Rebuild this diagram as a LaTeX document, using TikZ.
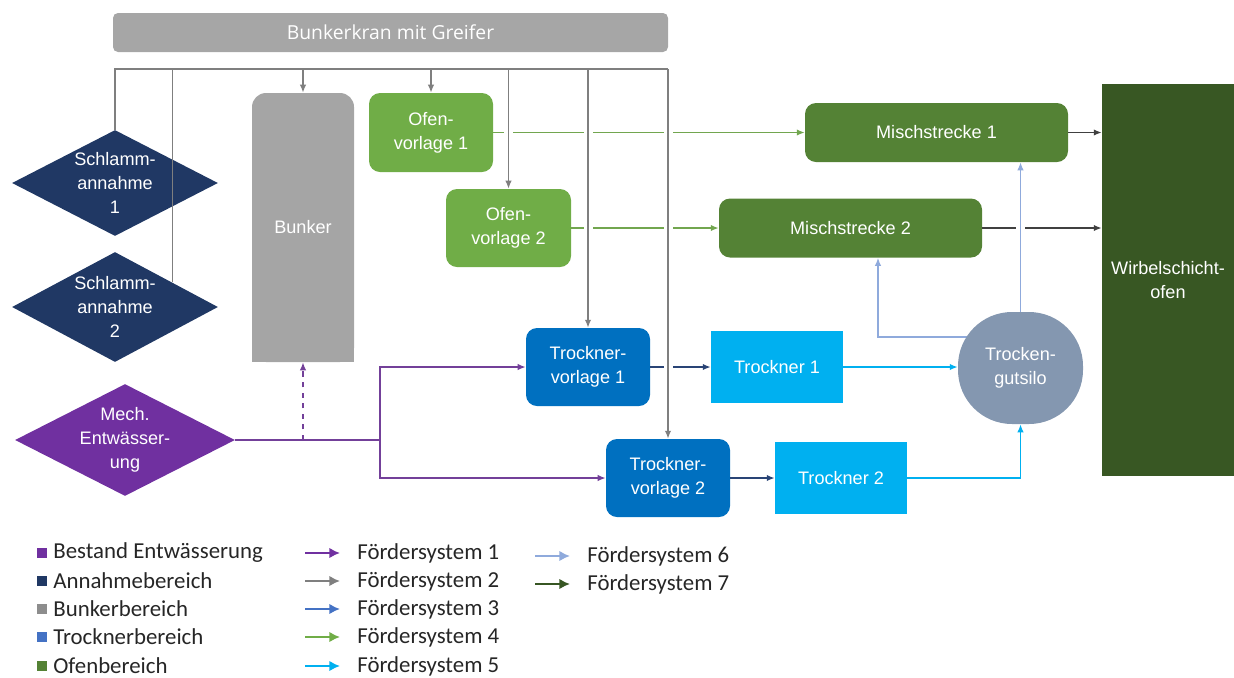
\documentclass[tikz,border=0pt]{standalone}
\usepackage{fontspec}
\setmainfont{Liberation Sans}
\newfontfamily\legendfont{Carlito}
\newfontfamily\barfont{Open Sans}
\usetikzlibrary{shapes.geometric,arrows.meta,backgrounds,calc}
\newlength\px
\setlength\px{0.02cm}

\definecolor{krangray}{HTML}{A6A6A6}
\definecolor{bunkergray}{HTML}{A5A5A5}
\definecolor{navy}{HTML}{203864}
\definecolor{entwpurple}{HTML}{7030A0}
\definecolor{lgreen}{HTML}{70AD47}
\definecolor{mgreen}{HTML}{548235}
\definecolor{dgreen}{HTML}{385723}
\definecolor{tvblue}{HTML}{0070C0}
\definecolor{trcyan}{HTML}{00B0F0}
\definecolor{silogray}{HTML}{8497B0}
\definecolor{fsone}{HTML}{7030A0}
\definecolor{fstwo}{HTML}{7F7F7F}
\definecolor{fsthree}{HTML}{4472C4}
\definecolor{fsfour}{HTML}{70AD47}
\definecolor{fsfive}{HTML}{00B0F0}
\definecolor{fssix}{HTML}{8FAADC}
\definecolor{fsseven}{HTML}{375623}
\definecolor{legtext}{HTML}{262626}

\begin{document}
\begin{tikzpicture}[x=\px,y=-\px,
  lbl/.style={text=white, font=\fontsize{10.3}{13.5}\selectfont, align=center, inner sep=0pt},
  roundbox/.style={lbl, rectangle, rounded corners=11\px},
  flatbox/.style={lbl, rectangle},
  rhomb/.style={lbl, diamond, aspect=1.9},
  tip/.style={-{Latex[length=4.5pt,width=3.6pt]}},
  conn/.style={line width=0.7pt},
  crossing/.style={preaction={draw=white, line width=9\px}},
  bus/.style={conn, draw=fstwo},
  ofenline/.style={conn, draw=fsfour!85!gray},
  misch/.style={conn, draw=black!75},
  siloline/.style={conn, draw=fssix},
  trline/.style={conn, draw=fsfive},
  tvline/.style={conn, draw=fsthree!60!black},
  entwline/.style={conn, draw=fsone!80!gray},
  legsq/.style={rectangle, inner sep=0pt, minimum size=10\px},
  legtxt/.style={anchor=west, inner sep=0pt, text=legtext, font=\legendfont\fontsize{13}{15}\selectfont},
  legarrow/.style={line width=1.5pt, -{Latex[length=6pt,width=6pt]}}
]
\useasboundingbox (0,0) rectangle (1234,677);

% ---------- process blocks ----------
\node[flatbox, fill=krangray, rounded corners=5\px, minimum width=555\px, minimum height=39\px,
      font=\barfont\fontsize{11}{13}\selectfont] (kran) at (390.5,32.5) {Bunkerkran mit Greifer};

\node[flatbox, fill=bunkergray, rounded corners=14\px, minimum width=102\px, minimum height=269\px] (bk) at (303,227.5) {Bunker};
\begin{scope}[on background layer]
  \fill[bunkergray] (bk.south west) rectangle (bk.east);
\end{scope}

\node[rhomb, fill=navy, minimum width=206\px, minimum height=106\px] (sa1) at (115,183) {Schlamm-\\annahme\\1};
\node[rhomb, fill=navy, minimum width=206\px, minimum height=110\px] (sa2) at (115,307) {Schlamm-\\annahme\\2};
\node[rhomb, fill=entwpurple, minimum width=220\px, minimum height=110\px] (mech) at (125,440) {Mech.\\Entwässer-\\ung};

\node[roundbox, fill=lgreen, minimum width=124\px, minimum height=79\px] (ov1) at (431,132.5) {Ofen-\\vorlage 1};
\node[roundbox, fill=lgreen, minimum width=125\px, minimum height=78\px] (ov2) at (508.5,228) {Ofen-\\vorlage 2};

\node[roundbox, fill=mgreen, minimum width=263\px, minimum height=59\px] (ms1) at (936.5,132.5) {Mischstrecke 1};
\node[roundbox, fill=mgreen, minimum width=263\px, minimum height=59\px] (ms2) at (850.5,228) {Mischstrecke 2};

\node[flatbox, fill=dgreen, minimum width=132\px, minimum height=392\px] (wso) at (1168,280) {Wirbelschicht-\\ofen};

\node[roundbox, fill=tvblue, minimum width=124\px, minimum height=78\px] (tv1) at (588,367) {Trockner-\\vorlage 1};
\node[roundbox, fill=tvblue, minimum width=124\px, minimum height=78\px] (tv2) at (668,478) {Trockner-\\vorlage 2};

\node[flatbox, fill=trcyan, minimum width=132\px, minimum height=72\px] (tr1) at (777,367) {Trockner 1};
\node[flatbox, fill=trcyan, minimum width=132\px, minimum height=72\px] (tr2) at (841,478) {Trockner 2};

\node[lbl, rectangle, fill=silogray, rounded corners=54\px, minimum width=125\px, minimum height=112\px] (silo) at (1020.5,368) {Trocken-\\gutsilo};

% ---------- conveyors ----------
\coordinate (busR) at (668,69);
\coordinate (split) at (380,440);
\coordinate (silobend) at (878,337);

% horizontal runs first, so that the verticals can cut gaps into them
\draw[ofenline, tip] (ov1.east) -- (ms1.west);
\draw[ofenline, tip] (ov2.east) -- (ms2.west);
\draw[misch, tip] (ms1.east) -- (ms1.east -| wso.west);
\draw[misch, tip] (ms2.east) -- (ms2.east -| wso.west);
\draw[tvline, tip] (tv1.east) -- (tr1.west);
\draw[tvline, tip] (tv2.east) -- (tr2.west);
\draw[trline, tip] (tr1.east) -- (tr1.east -| silo.west);
\draw[trline, tip] (tr2.east) -| (silo.south);

% crane feeds
\draw[bus, tip, crossing] (bk.north |- busR) -- (bk.north);
\draw[bus, tip, crossing] (ov1.north |- busR) -- (ov1.north);
\draw[bus, tip, crossing] (ov2.north |- busR) -- (ov2.north);
\draw[bus, tip, crossing] (tv1.north |- busR) -- (tv1.north);
\draw[bus, tip, crossing] (busR) -- (tv2.north);
\draw[bus] (sa1.north) -- (sa1.north |- busR) -- (busR);
\coordinate (sa2top) at ($(sa2.north)!0.553!(sa2.east)$);
\draw[bus] (sa2top) -- (sa2top |- busR);

% dried sludge to the mixers
\draw[siloline, tip, crossing] (silo.north) -- (silo.north |- ms1.south);
\begin{scope}[on background layer]
  \draw[siloline, tip] (silo.center |- silobend) -- (silobend) -- (silobend |- ms2.south);
\end{scope}

% mechanical dewatering
\draw[entwline] (mech.east) -- (split);
\draw[entwline, tip] (split) |- (tv1.west);
\draw[entwline, tip] (split) |- (tv2.west);
\draw[entwline, dashed, tip] (mech.east -| bk.south) -- (bk.south);

% ---------- legend ----------
\node[legtxt] (la) at (53,553) {Bestand Entwässerung};
\node[legtxt] (lb) at (53,581) {Annahmebereich};
\node[legtxt] (lc) at (53,609) {Bunkerbereich};
\node[legtxt] (ld) at (53,637) {Trocknerbereich};
\node[legtxt] (le) at (53,666) {Ofenbereich};
\node[legsq, fill=entwpurple] at ([xshift=-11\px]la.west) {};
\node[legsq, fill=navy] at ([xshift=-11\px]lb.west) {};
\node[legsq, fill=krangray!85!black] at ([xshift=-11\px]lc.west) {};
\node[legsq, fill=fsthree] at ([xshift=-11\px]ld.west) {};
\node[legsq, fill=mgreen] at ([xshift=-11\px]le.west) {};

\node[legtxt] (f1) at (357,553) {Fördersystem 1};
\node[legtxt] (f2) at (357,581) {Fördersystem 2};
\node[legtxt] (f3) at (357,609) {Fördersystem 3};
\node[legtxt] (f4) at (357,637) {Fördersystem 4};
\node[legtxt] (f5) at (357,666) {Fördersystem 5};
\node[legtxt] (f6) at (587,556) {Fördersystem 6};
\node[legtxt] (f7) at (587,584) {Fördersystem 7};
\foreach \n/\c in {f1/fsone, f2/fstwo, f3/fsthree, f4/fsfour, f5/fsfive, f6/fssix, f7/fsseven}
  \draw[legarrow, draw=\c] ([xshift=-52\px]\n.west) -- ([xshift=-17\px]\n.west);
\end{tikzpicture}
\end{document}
